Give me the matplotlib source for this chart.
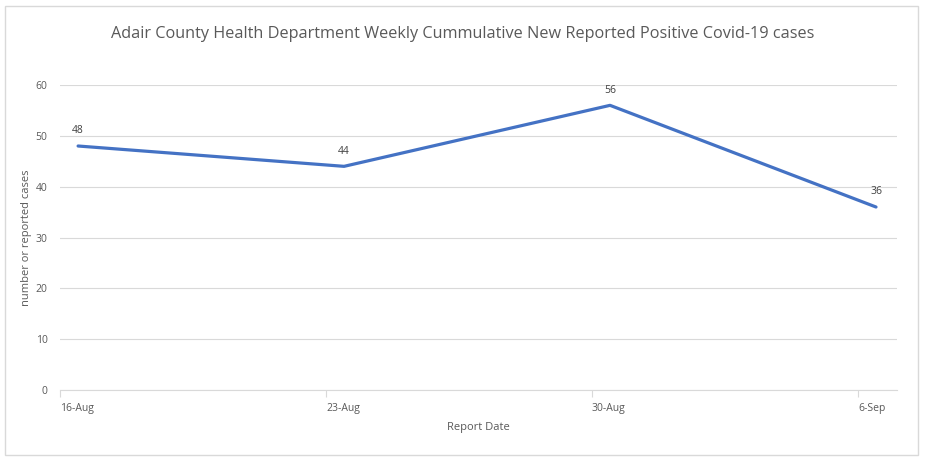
import matplotlib.pyplot as plt
from matplotlib.patches import Rectangle

dates = ["16-Aug", "23-Aug", "30-Aug", "6-Sep"]
cases = [48, 44, 56, 36]

plt.rcParams['font.family'] = ['Open Sans', 'DejaVu Sans']
gray = "#595959"
grid = "#d9d9d9"
blue = "#4472C4"

fig = plt.figure(figsize=(9.26, 4.61), dpi=100)
ax = fig.add_axes([0.0648, 0.154, 0.9039, 0.6616])

x = list(range(len(dates)))
ax.plot(x, cases, color=blue, lw=2.3, solid_capstyle="round")
for xi, v in zip(x, cases):
    ax.annotate(str(v), (xi, v), xytext=(0, 7), textcoords="offset points",
                ha="center", va="bottom", fontsize=7.5, color="#404040")

# category ticks sit a bit left of the points, like the Excel date axis
off = 0.068
ax.set_xticks([xi - off for xi in x])
ax.set_xticklabels(dates, ha="left", fontsize=7.5, color=gray)
ax.set_xlim(-off, 3.079)
ax.set_ylim(0, 60)
ax.set_yticks(range(0, 61, 10))
ax.tick_params(axis="y", length=0, pad=9, labelsize=7.5, labelcolor=gray)
ax.tick_params(axis="x", length=5, width=0.8, color=grid, pad=4)
ax.grid(axis="y", color=grid, lw=0.8)
ax.set_axisbelow(True)
for s in ["top", "right", "left"]:
    ax.spines[s].set_visible(False)
ax.spines["bottom"].set_color(grid)

ax.set_xlabel("Report Date", fontsize=8, color=gray, labelpad=6)
ax.set_ylabel("number or reported cases", fontsize=8, color=gray)
ax.yaxis.set_label_coords(-0.033, 0.5)

fig.text(0.5, 0.927, "Adair County Health Department Weekly Cummulative New Reported Positive Covid-19 cases",
         ha="center", va="center", fontsize=11.7, color=gray)

fig.patches.append(Rectangle((0.005, 0.012), 0.986, 0.976, transform=fig.transFigure,
                             fill=False, edgecolor=grid, lw=1))

fig.savefig("out.png", dpi=100)
